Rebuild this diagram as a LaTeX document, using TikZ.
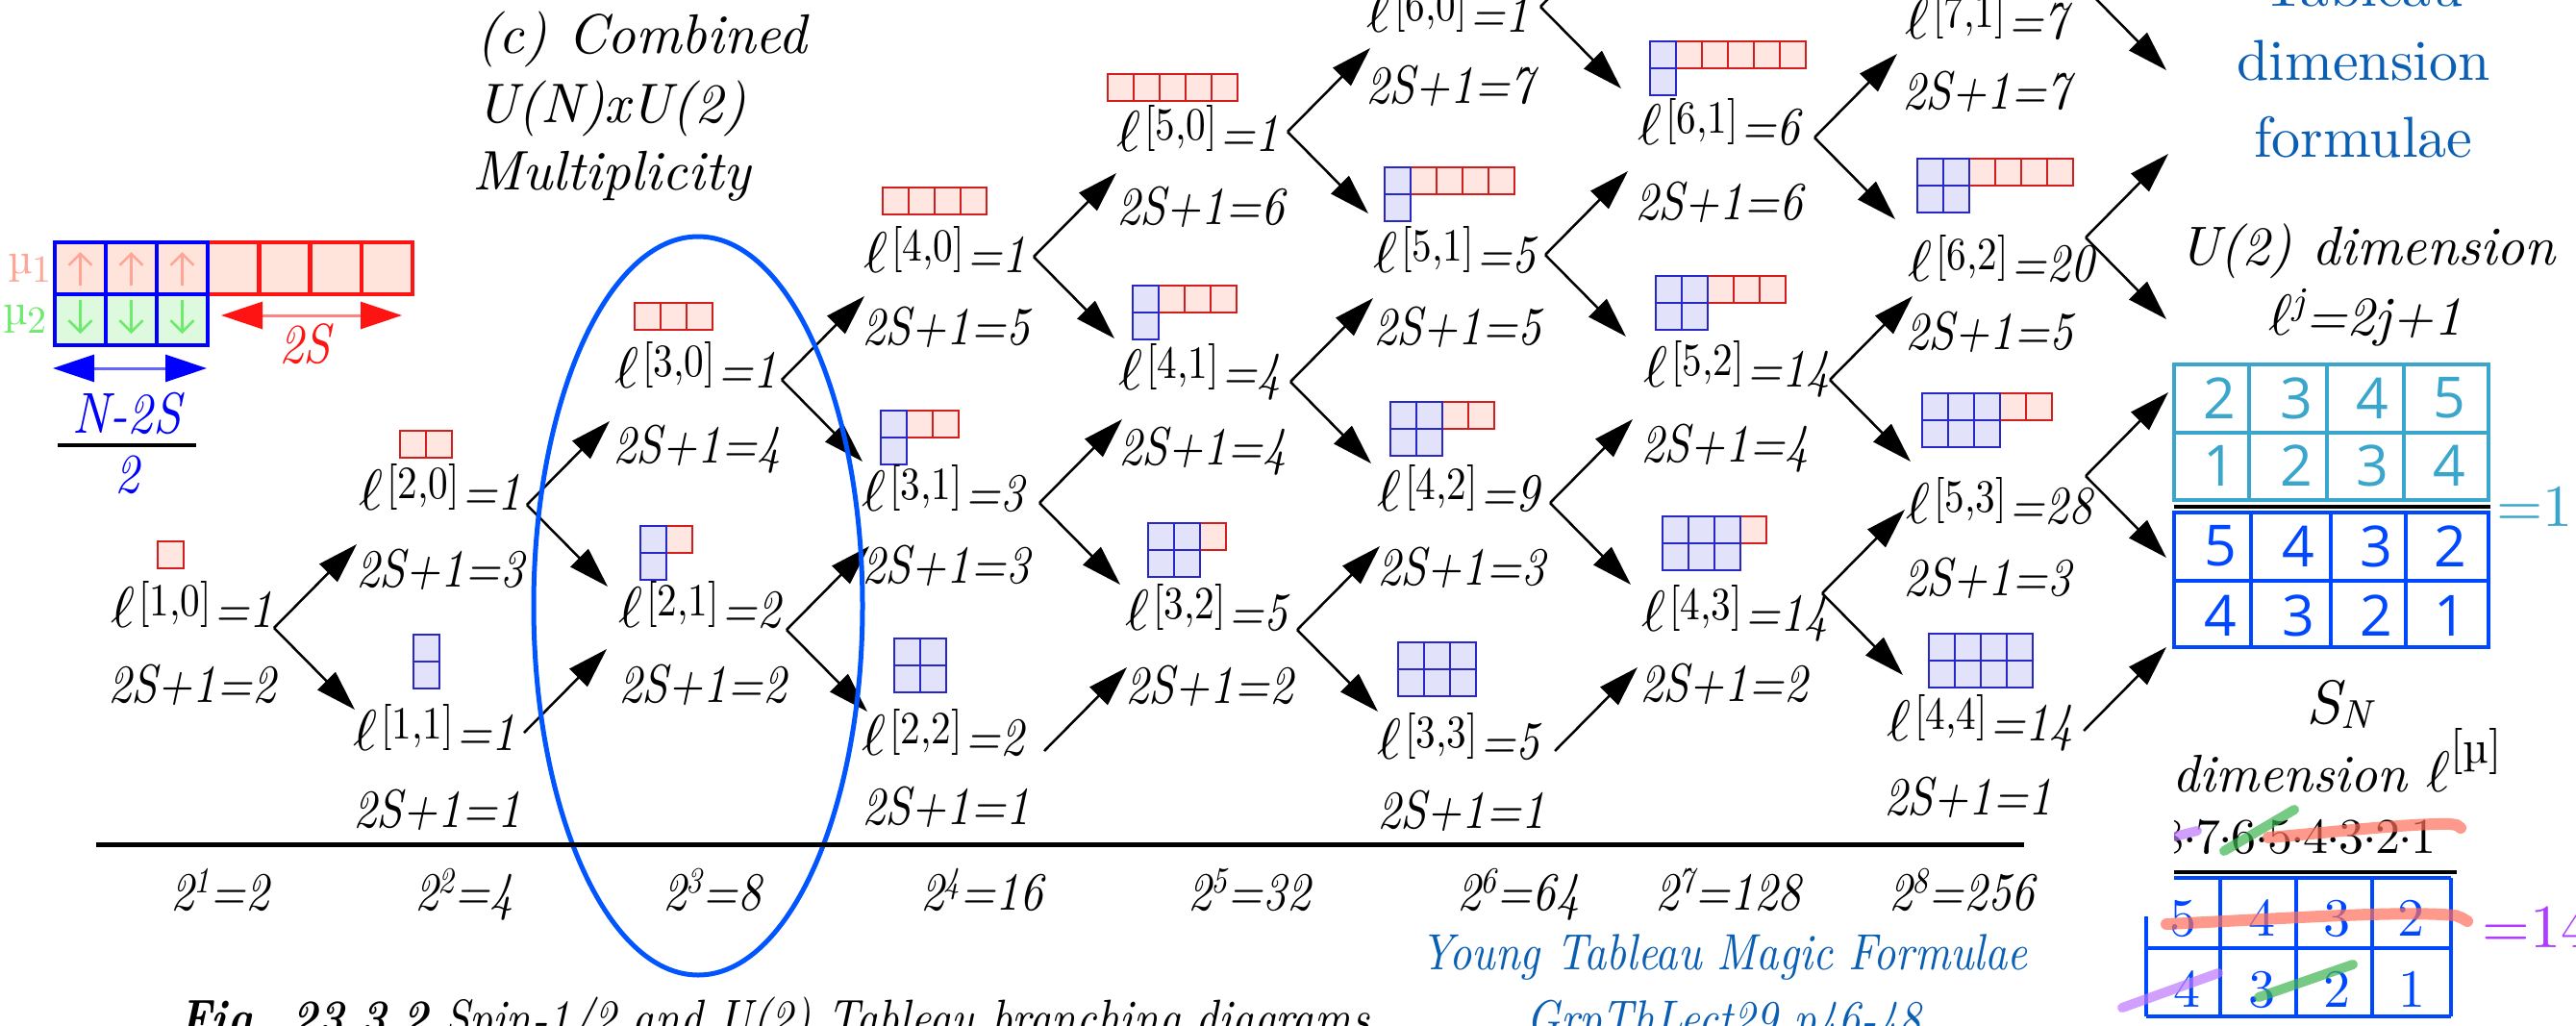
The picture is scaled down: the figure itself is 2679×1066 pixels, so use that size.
\documentclass[tikz,border=0pt]{standalone}
\usepackage{graphicx}
\usepackage{fontspec}
\setmainfont{lmroman10-regular.otf}[ItalicFont=lmroman10-italic.otf,BoldFont=lmroman10-bold.otf,BoldItalicFont=lmroman10-bolditalic.otf]
\newfontfamily\lf{lmroman10-regular.otf}[ItalicFont=lmroman10-italic.otf,BoldFont=lmroman10-bold.otf,BoldItalicFont=lmroman10-bolditalic.otf,FakeStretch=0.86]
\newfontfamily\gsans{Open Sans}
\usetikzlibrary{arrows.meta}
\definecolor{rbd}{RGB}{210,30,30}
\definecolor{rfill}{RGB}{255,230,224}
\definecolor{bbd}{RGB}{40,40,200}
\definecolor{bfill}{RGB}{226,226,250}
\definecolor{ellblue}{RGB}{0,85,255}
\definecolor{tblue}{RGB}{10,95,180}
\definecolor{cyanb}{RGB}{58,166,204}
\definecolor{gblue}{RGB}{0,72,255}
\definecolor{purp}{RGB}{175,60,255}
\definecolor{salmon}{RGB}{255,110,90}
\definecolor{mgreen}{RGB}{60,180,80}
\definecolor{mpurp}{RGB}{190,120,255}
\definecolor{muone}{RGB}{255,165,150}
\definecolor{mutwo}{RGB}{110,235,110}
\definecolor{bigred}{RGB}{255,20,20}
\definecolor{lightred}{RGB}{255,130,130}
\definecolor{bigblue}{RGB}{0,0,255}
\definecolor{lightblue}{RGB}{100,100,255}
\definecolor{pinkfill}{RGB}{255,228,220}
\definecolor{greenfill}{RGB}{222,250,222}
\newcommand\ELL{\scalebox{6}{\fontsize{10}{12}\selectfont$\ell$}}
\newcommand\ellab[2]{\ELL\kern4pt\raisebox{12pt}{\upshape\fontsize{48}{48}\selectfont[#1]}\kern3pt=#2}
\newcommand\pw[2]{2\raisebox{18pt}{\fontsize{38}{38}\selectfont #1}=#2}
\newcommand\cd{\kern-1.5pt\raisebox{11pt}{.}\kern-1.5pt}
\newcommand\ytab[4]{%
  \pgfmathtruncatemacro\ytS{#4+1}%
  \ifnum#3>#4\relax
    \foreach \i in {\ytS,...,#3}{%
      \draw[rbox] ({#1+(\i-1)*27},#2) rectangle ++(27,28);}%
  \fi
  \ifnum#4>0\relax
    \foreach \i in {1,...,#4}{%
      \draw[bbox] ({#1+(\i-1)*27},#2) rectangle ++(27,28);
      \draw[bbox] ({#1+(\i-1)*27},{#2+28}) rectangle ++(27,28);}%
  \fi}
\newcommand\upar[1]{\draw[arr] (#1) -- ++(86,-87);}
\newcommand\dnar[1]{\draw[arr] (#1) -- ++(84,85);}
\begin{document}
\begin{tikzpicture}[x=1pt,y=-1pt,
  lab/.style={anchor=base west, inner sep=0pt, font=\lf\itshape\fontsize{56}{60}\selectfont},
  arr/.style={line width=2.5pt, -{Triangle[length=42pt,width=26pt]}},
  rbox/.style={draw=rbd, fill=rfill, line width=2.5pt},
  bbox/.style={draw=bbd, fill=bfill, line width=2.5pt},
  txt/.style={inner sep=0pt},
  marker/.style={line width=12pt, line cap=round, opacity=0.7}]
\clip (0,0) rectangle (2679,1066);
\fill[white] (0,0) rectangle (2679,1066);

% ---------- top-left tableau ----------
\foreach \i in {0,...,3}{\draw[draw=bigred, fill=pinkfill, line width=4.5pt] ({216+53.3*\i},252) rectangle ++(53.3,54);}
\foreach \i in {0,...,2}{
  \draw[draw=bigblue, fill=pinkfill, line width=4.5pt] ({57+53*\i},252) rectangle ++(53,54);
  \draw[draw=bigblue, fill=greenfill, line width=4.5pt] ({57+53*\i},306) rectangle ++(53,53);
  \draw[muone, line width=2.5pt, -{Straight Barb[length=12pt,width=24pt]}] ({83.5+53*\i},297) -- ({83.5+53*\i},262);
  \draw[mutwo, line width=2.5pt, -{Straight Barb[length=12pt,width=24pt]}] ({83.5+53*\i},312) -- ({83.5+53*\i},347);}
\node[txt, muone, anchor=base west, font=\fontsize{46}{46}\selectfont] (mu1) at (8,284) {µ\raisebox{-9pt}{\fontsize{40}{40}\selectfont 1}};
\node[txt, mutwo, anchor=base west, font=\fontsize{46}{46}\selectfont] (mu2) at (3,337) {µ\raisebox{-9pt}{\fontsize{40}{40}\selectfont 2}};
\draw[lightred, line width=3pt, {Triangle[length=43pt,width=28pt,color=bigred]}-{Triangle[length=43pt,width=28pt,color=bigred]}] (230,328) -- (418,328);
\node[txt, bigred, anchor=base, font=\lf\itshape\fontsize{58}{58}\selectfont] (twoS) at (317,377) {2S};
\draw[lightblue, line width=3pt, {Triangle[length=43pt,width=28pt,color=bigblue]}-{Triangle[length=43pt,width=28pt,color=bigblue]}] (55,383) -- (215,383);
\node[txt, bigblue, anchor=base, font=\lf\itshape\fontsize{60}{60}\selectfont] (n2s) at (132,450) {N-2S};
\draw[line width=4pt] (60,463) -- (204,463);
\node[txt, bigblue, anchor=base, font=\lf\itshape\fontsize{58}{58}\selectfont] (two) at (132,512) {2};

% ---------- title ----------
\node[txt, anchor=base west, font=\itshape\fontsize{58}{58}\selectfont] (t1) at (495,55) {(c) Combined};
\node[txt, anchor=base west, font=\itshape\fontsize{58}{58}\selectfont] (t2) at (495,127) {U(N)xU(2)};
\node[txt, anchor=base west, font=\itshape\fontsize{58}{58}\selectfont] (t3) at (491,197) {Multiplicity};

% ---------- tableaux ----------
\ytab{164}{563}{1}{0}
\ytab{416}{448}{2}{0}
\ytab{430}{660}{1}{1}
\ytab{660}{315}{3}{0}
\ytab{666}{547}{2}{1}
\ytab{918}{195}{4}{0}
\ytab{916}{427}{3}{1}
\ytab{930}{664}{2}{2}
\ytab{1152}{77}{5}{0}
\ytab{1178}{297}{4}{1}
\ytab{1194}{544}{3}{2}
\ytab{1440}{174}{5}{1}
\ytab{1446}{418}{4}{2}
\ytab{1454}{668}{3}{3}
\ytab{1716}{43}{6}{1}
\ytab{1722}{287}{5}{2}
\ytab{1729}{537}{4}{3}
\ytab{1994}{165}{6}{2}
\ytab{1999}{409}{5}{3}
\ytab{2006}{659}{4}{4}

% ---------- labels ----------
\node[lab] (l10) at (115,652) {\ellab{1,0}{1}};  \node[lab] (s10) at (112,730) {2S+1=2};
\node[lab] (l20) at (373,530) {\ellab{2,0}{1}};  \node[lab] (s20) at (370,610) {2S+1=3};
\node[lab] (l11) at (367,780) {\ellab{1,1}{1}};  \node[lab] (s11) at (367,860) {2S+1=1};
\node[lab] (l30) at (639,403) {\ellab{3,0}{1}};  \node[lab] (s30) at (637,481) {2S+1=4};
\node[lab] (l21) at (643,652) {\ellab{2,1}{2}};  \node[lab] (s21) at (643,730) {2S+1=2};
\node[lab] (l40) at (898,283) {\ellab{4,0}{1}};  \node[lab] (s40) at (896,358) {2S+1=5};
\node[lab] (l31) at (896,531) {\ellab{3,1}{3}};  \node[lab] (s31) at (896,606) {2S+1=3};
\node[lab] (l22) at (896,785) {\ellab{2,2}{2}};  \node[lab] (s22) at (896,857) {2S+1=1};
\node[lab] (l50) at (1161,157) {\ellab{5,0}{1}}; \node[lab] (s50) at (1161,233) {2S+1=6};
\node[lab] (l41) at (1163,405) {\ellab{4,1}{4}}; \node[lab] (s41) at (1163,483) {2S+1=4};
\node[lab] (l32) at (1170,655) {\ellab{3,2}{5}}; \node[lab] (s32) at (1170,731) {2S+1=2};
\node[lab] (l60) at (1421,33) {\ellab{6,0}{1}};  \node[lab] (s60) at (1420,107) {2S+1=7};
\node[lab] (l51) at (1428,283) {\ellab{5,1}{5}}; \node[lab] (s51) at (1428,358) {2S+1=5};
\node[lab] (l42) at (1432,531) {\ellab{4,2}{9}}; \node[lab] (s42) at (1432,608) {2S+1=3};
\node[lab] (l33) at (1432,789) {\ellab{3,3}{5}}; \node[lab] (s33) at (1432,861) {2S+1=1};
\node[lab] (l61) at (1703,150) {\ellab{6,1}{6}}; \node[lab] (s61) at (1700,228) {2S+1=6};
\node[lab] (l52) at (1709,402) {\ellab{5,2}{14}};\node[lab] (s52) at (1706,480) {2S+1=4};
\node[lab] (l43) at (1707,656) {\ellab{4,3}{14}};\node[lab] (s43) at (1705,729) {2S+1=2};
\node[lab] (l71) at (1981,40) {\ellab{7,1}{7}};  \node[lab] (s71) at (1978,113) {2S+1=7};
\node[lab] (l62) at (1984,292) {\ellab{6,2}{20}};\node[lab] (s62) at (1981,363) {2S+1=5};
\node[lab] (l53) at (1982,544) {\ellab{5,3}{28}};\node[lab] (s53) at (1979,619) {2S+1=3};
\node[lab] (l44) at (1962,770) {\ellab{4,4}{14}};\node[lab] (s44) at (1959,847) {2S+1=1};

% ---------- branch vertices and arrows ----------
\coordinate (v10) at (285,653);  \coordinate (v20) at (548,525);  \coordinate (v11) at (545,762);
\coordinate (v30) at (813,395);  \coordinate (v21) at (818,655);
\coordinate (v40) at (1075,267); \coordinate (v31) at (1081,523); \coordinate (v22) at (1086,781);
\coordinate (v50) at (1339,137); \coordinate (v41) at (1342,397); \coordinate (v32) at (1349,655);
\coordinate (v60) at (1602,7);   \coordinate (v51) at (1607,265); \coordinate (v42) at (1612,523); \coordinate (v33) at (1617,781);
\coordinate (v61) at (1887,143); \coordinate (v52) at (1903,395); \coordinate (v43) at (1895,617);
\coordinate (v71) at (2169,-12); \coordinate (v62) at (2169,247); \coordinate (v53) at (2169,495); \coordinate (v44) at (2167,760);
\upar{v10}\dnar{v10}
\upar{v20}\dnar{v20}\upar{v11}
\upar{v30}\dnar{v30}\upar{v21}\dnar{v21}
\upar{v40}\dnar{v40}\upar{v31}\dnar{v31}\upar{v22}
\upar{v50}\dnar{v50}\upar{v41}\dnar{v41}\upar{v32}\dnar{v32}
\upar{v60}\dnar{v60}\upar{v51}\dnar{v51}\upar{v42}\dnar{v42}\upar{v33}
\upar{v61}\dnar{v61}\upar{v52}\dnar{v52}\upar{v43}\dnar{v43}
\upar{v71}\dnar{v71}\upar{v62}\dnar{v62}\upar{v53}\dnar{v53}\upar{v44}

% ---------- ellipse, axis ----------
\draw[ellblue, line width=5pt] (726,630) ellipse [x radius=171, y radius=384];
\coordinate (axl) at (100,878); \coordinate (axr) at (2105,878);
\draw[line width=5pt] (axl) -- (axr);
\node[lab] (p1) at (177,946) {\pw{1}{2}};
\node[lab] (p2) at (431,946) {\pw{2}{4}};
\node[lab] (p3) at (689,946) {\pw{3}{8}};
\node[lab] (p4) at (957,946) {\pw{4}{16}};
\node[lab] (p5) at (1235,946) {\pw{5}{32}};
\node[lab] (p6) at (1515,946) {\pw{6}{64}};
\node[lab] (p7) at (1721,946) {\pw{7}{128}};
\node[lab] (p8) at (1964,946) {\pw{8}{256}};

% ---------- captions ----------
\node[lab, font=\lf\itshape\fontsize{54}{58}\selectfont] (cap) at (186,1077) {\bfseries Fig. 23.3.2\mdseries{} Spin-1/2 and U(2) Tableau branching diagrams};
\node[txt, tblue, anchor=base, font=\lf\itshape\fontsize{53}{53}\selectfont] (ytm) at (1793,1008) {Young Tableau Magic Formulae};
\node[txt, tblue, anchor=base, font=\lf\itshape\fontsize{53}{53}\selectfont] (grp) at (1793,1077) {GrpThLect29 p46-48};

% ---------- right panel ----------
\node[txt, tblue, anchor=base, font=\fontsize{60}{60}\selectfont] (r1) at (2458,6) {Tableau};
\node[txt, tblue, anchor=base, font=\fontsize{60}{60}\selectfont] (r2) at (2458,83) {dimension};
\node[txt, tblue, anchor=base, font=\fontsize{60}{60}\selectfont] (r3) at (2458,163) {formulae};
\node[txt, anchor=base, font=\itshape\fontsize{57}{57}\selectfont] (u2) at (2462,275) {U(2) dimension};
\node[txt, anchor=base, font=\itshape\fontsize{57}{57}\selectfont] (u2f) at (2460,348) {\ELL\raisebox{22pt}{\fontsize{40}{40}\selectfont j}=2j+1};
% cyan grid
\draw[cyanb, line width=3.5pt] (2261,379) rectangle (2588,520) (2261,450) -- (2588,450)
  (2339,379) -- (2339,520) (2420,379) -- (2420,520) (2500,379) -- (2500,520);
\foreach \x/\a/\b in {2308/2/1, 2388/3/2, 2467/4/3, 2547/5/4}{
  \node[txt, cyanb, font=\gsans\fontsize{59}{59}\selectfont] at (\x,414) {\a};
  \node[txt, cyanb, font=\gsans\fontsize{59}{59}\selectfont] at (\x,484) {\b};}
\draw[line width=4pt] (2261,527) -- (2590,527);
\draw[gblue, line width=4pt] (2261,533) rectangle (2588,673) (2261,604) -- (2588,604)
  (2341,533) -- (2341,673) (2424,533) -- (2424,673) (2502,533) -- (2502,673);
\foreach \x/\a/\b in {2309/5/4, 2390/4/3, 2471/3/2, 2548/2/1}{
  \node[txt, gblue, font=\gsans\fontsize{59}{59}\selectfont] at (\x,568) {\a};
  \node[txt, gblue, font=\gsans\fontsize{59}{59}\selectfont] at (\x,640) {\b};}
\node[txt, cyanb, anchor=base west, font=\fontsize{62}{62}\selectfont] (eq1) at (2596,547) {=1};

% S_N panel
\node[txt, anchor=base west, font=\itshape\fontsize{64}{64}\selectfont] (sn) at (2398,752) {S\raisebox{-5pt}{\fontsize{42}{42}\selectfont N}};
\begin{scope}
\clip (2261,700) rectangle (2679,953);
\node[txt, anchor=base east, font=\itshape\fontsize{55}{55}\selectfont] (dimm) at (2602,823) {dimension \ELL\raisebox{30pt}{\upshape\fontsize{48}{48}\selectfont[µ]}};
\node[txt, anchor=base east, font=\fontsize{52}{52}\selectfont] (fac) at (2534,887) {8\cd7\cd6\cd5\cd4\cd3\cd2\cd1};
\draw[salmon, marker] (2359,871) .. controls (2440,864) and (2510,856) .. (2548,857) .. controls (2556,858) .. (2559,861);
\draw[mgreen, marker, line width=10pt] (2313,885) -- (2386,842);
\draw[mpurp, marker, line width=10pt] (2250,873) -- (2285,864);
\end{scope}
\draw[line width=4pt] (2261,907) -- (2555,907);
\draw[gblue, line width=4pt] (2261,913) -- (2549,913) (2232,986) -- (2549,986) (2232,1057) -- (2549,1057)
  (2232,953) -- (2232,1057) (2309,913) -- (2309,1057) (2388,913) -- (2388,1057) (2467,913) -- (2467,1057) (2549,913) -- (2549,1057);
\foreach \x/\a in {2270/5, 2352/4, 2430/3, 2507/2}{
  \node[txt, gblue, anchor=base, font=\fontsize{56}{56}\selectfont] at (\x,973) {\a};}
\foreach \x/\a in {2274/4, 2352/3, 2430/2, 2508/1}{
  \node[txt, gblue, anchor=base, font=\fontsize{56}{56}\selectfont] at (\x,1047) {\a};}
\draw[salmon, marker] (2253,961) .. controls (2380,955) and (2480,948) .. (2540,951) .. controls (2556,952) .. (2566,958);
\draw[mgreen, marker, line width=10pt] (2349,1037) -- (2447,1003);
\draw[mpurp, marker, line width=10pt] (2207,1048) -- (2307,1012);
\node[txt, purp, anchor=base west, font=\fontsize{64}{64}\selectfont] (eq14) at (2581,985) {=14};
\end{tikzpicture}
\end{document}
